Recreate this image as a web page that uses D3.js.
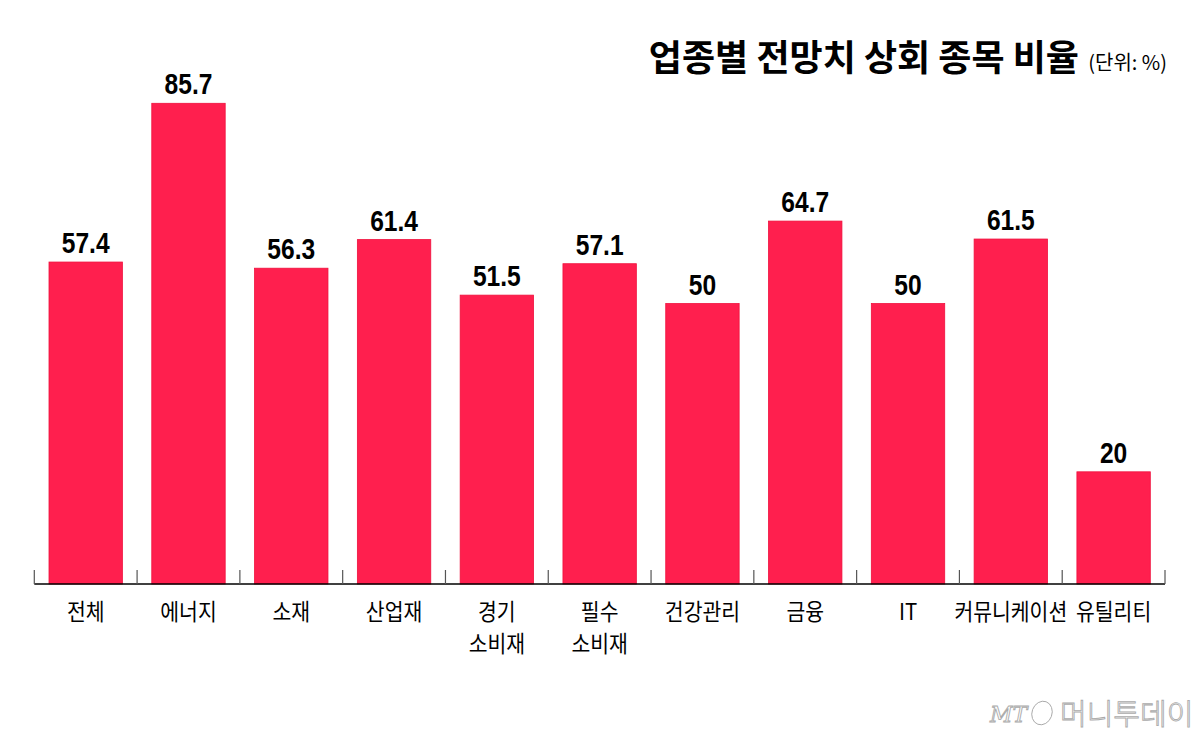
<!DOCTYPE html>
<html>
<head>
<meta charset="utf-8">
<script src="https://cdn.jsdelivr.net/npm/d3@7"></script>
<style>
  body { margin: 0; background: #fff; }
</style>
</head>
<body>
<div id="chart"></div>
<script>
// 데이터
const categories = ["전체", "에너지", "소재", "산업재", "경기\n소비재", "필수\n소비재", "건강관리", "금융", "IT", "커뮤니케이션", "유틸리티"];
const values = [57.4, 85.7, 56.3, 61.4, 51.5, 57.1, 50, 64.7, 50, 61.5, 20];
const valueLabels = ["57.4", "85.7", "56.3", "61.4", "51.5", "57.1", "50", "64.7", "50", "61.5", "20"];

const W = 1200, H = 736;
const baseY = 584;

const svg = d3.select("#chart")
  .append("svg")
  .attr("width", W)
  .attr("height", H);

const x = d3.scaleBand()
  .domain(categories)
  .range([34.3, 1165])
  .paddingInner(0.286)
  .paddingOuter(0.143);

const y = d3.scaleLinear()
  .domain([0, 85.7])
  .range([baseY, 103.3]);

const data = categories.map((c, i) => ({ cat: c, val: values[i], label: valueLabels[i] }));

// 제목
svg.append("text")
  .attr("x", 1079)
  .attr("y", 71)
  .attr("text-anchor", "end")
  .style("font-family", "'Noto Sans CJK KR', 'Noto Sans', sans-serif")
  .style("font-weight", "700")
  .style("font-size", "36px")
  .style("fill", "#000")
  .text("업종별 전망치 상회 종목 비율");

svg.append("text")
  .attr("x", 1167)
  .attr("y", 70)
  .attr("text-anchor", "end")
  .style("font-family", "'Noto Sans CJK KR', sans-serif")
  .style("font-size", "20px")
  .style("fill", "#000")
  .text("(단위: %)");

// 막대
svg.selectAll(".bar")
  .data(data)
  .enter()
  .append("rect")
  .attr("class", "bar")
  .attr("x", d => x(d.cat))
  .attr("y", d => y(d.val))
  .attr("width", x.bandwidth())
  .attr("height", d => baseY - y(d.val))
  .style("fill", "#ff1f4e")
  .style("stroke", "#f0103c")
  .style("stroke-width", 0.8);

// 값 라벨 (가로로 좁힌 굵은 숫자)
svg.selectAll(".val")
  .data(data)
  .enter()
  .append("text")
  .attr("class", "val")
  .attr("transform", d => "translate(" + (x(d.cat) + x.bandwidth() / 2) + "," + (y(d.val) - 9) + ") scale(0.82,1)")
  .attr("text-anchor", "middle")
  .style("font-family", "'Liberation Sans', Arial, sans-serif")
  .style("font-weight", "700")
  .style("font-size", "30px")
  .style("fill", "#000")
  .text(d => d.label);

// 축
const off = x.step() * x.paddingOuter();
const bounds = categories.map(c => x(c) - off).concat([x.range()[1]]);

svg.append("line")
  .attr("x1", x.range()[0])
  .attr("x2", x.range()[1])
  .attr("y1", baseY)
  .attr("y2", baseY)
  .style("stroke", "#000")
  .style("stroke-width", 1.5);

svg.selectAll(".tick")
  .data(bounds)
  .enter()
  .append("line")
  .attr("class", "tick")
  .attr("x1", d => d)
  .attr("x2", d => d)
  .attr("y1", baseY - 14)
  .attr("y2", baseY)
  .style("stroke", "#555")
  .style("stroke-width", 1.2);

// 카테고리 라벨 (줄마다 따로, 살짝 좁게)
const catLines = [];
data.forEach(d => {
  d.cat.split("\n").forEach((l, i) => catLines.push({ cat: d.cat, text: l, line: i }));
});

svg.selectAll(".cat")
  .data(catLines)
  .enter()
  .append("text")
  .attr("class", "cat")
  .attr("transform", d => "translate(" + (x(d.cat) + x.bandwidth() / 2) + "," + (620 + d.line * 32) + ") scale(0.93,1.04)")
  .attr("text-anchor", "middle")
  .style("font-family", "'Noto Sans CJK KR', sans-serif")
  .style("font-size", "22px")
  .style("fill", "#000")
  .text(d => d.text);

// 워터마크
const wm = svg.append("g").style("fill", "#fff").style("stroke", "#aaa").style("stroke-width", 0.9);
wm.append("text")
  .attr("x", 990)
  .attr("y", 722)
  .style("font-family", "'DejaVu Serif', serif")
  .style("font-style", "italic")
  .style("font-size", "22px")
  .text("MT");
wm.append("ellipse")
  .attr("cx", 1042)
  .attr("cy", 713)
  .attr("rx", 10)
  .attr("ry", 12)
  .attr("transform", "rotate(20,1042,713)")
  .style("fill", "none");
wm.append("text")
  .attr("x", 1060)
  .attr("y", 725)
  .style("font-family", "'Noto Sans CJK KR', sans-serif")
  .style("font-weight", "300")
  .style("font-size", "29px")
  .text("머니투데이");
</script>
</body>
</html>
